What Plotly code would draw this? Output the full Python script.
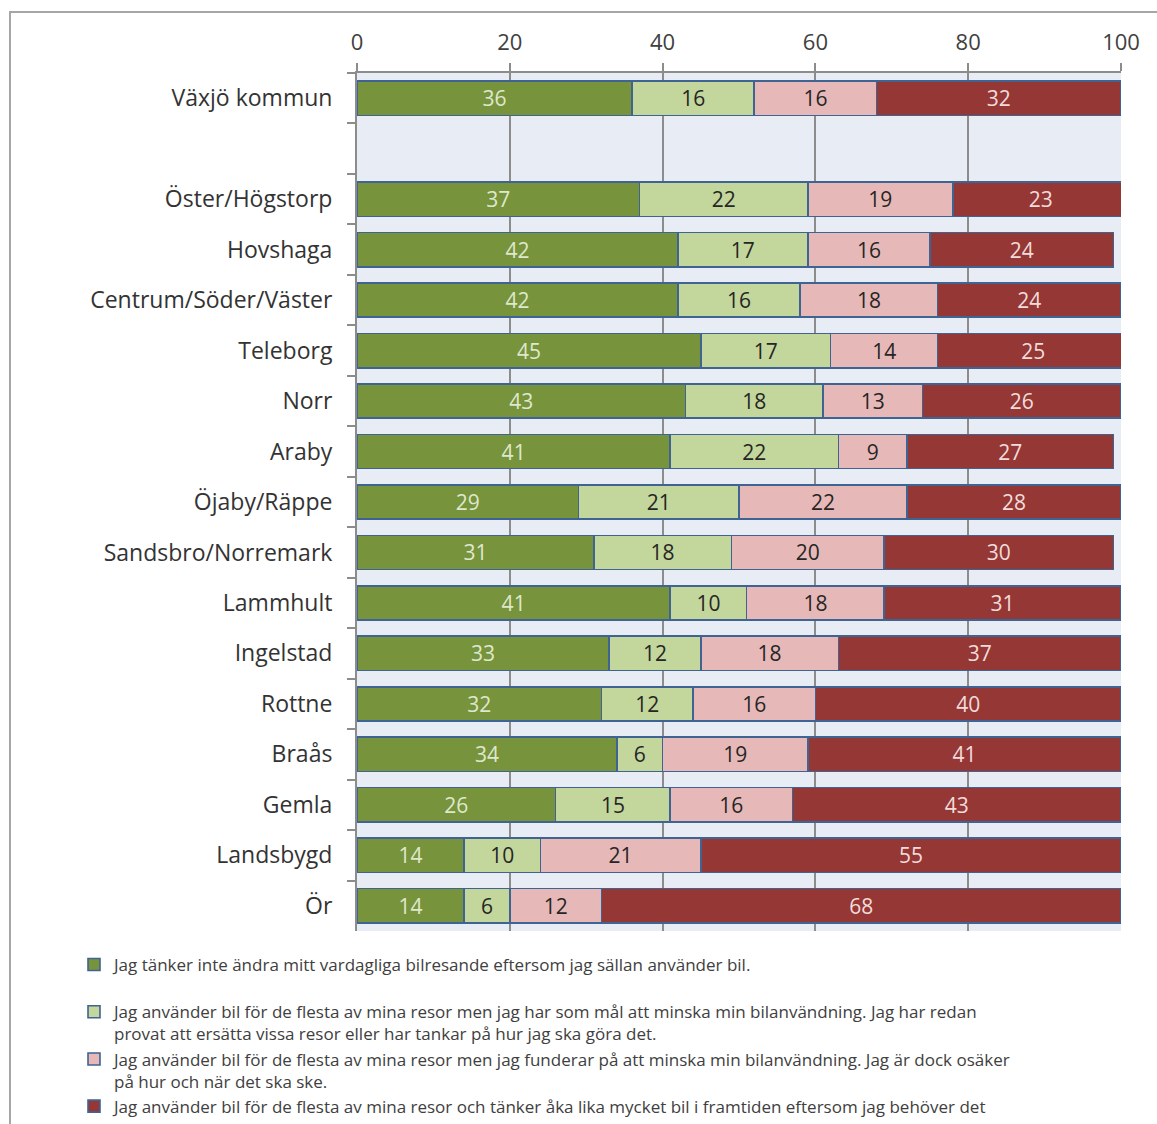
import plotly.graph_objects as go

categories = ["Växjö kommun", " ", "Öster/Högstorp", "Hovshaga", "Centrum/Söder/Väster", "Teleborg",
              "Norr", "Araby", "Öjaby/Räppe", "Sandsbro/Norremark", "Lammhult", "Ingelstad",
              "Rottne", "Braås", "Gemla", "Landsbygd", "Ör"]

s1 = [36, None, 37, 42, 42, 45, 43, 41, 29, 31, 41, 33, 32, 34, 26, 14, 14]
s2 = [16, None, 22, 17, 16, 17, 18, 22, 21, 18, 10, 12, 12, 6, 15, 10, 6]
s3 = [16, None, 19, 16, 18, 14, 13, 9, 22, 20, 18, 18, 16, 19, 16, 21, 12]
s4 = [32, None, 23, 24, 24, 25, 26, 27, 28, 30, 31, 37, 40, 41, 43, 55, 68]

names = [
    "Jag tänker inte ändra mitt vardagliga bilresande eftersom jag sällan använder bil.<br> ",
    "Jag använder bil för de flesta av mina resor men jag har som mål att minska min bilanvändning. Jag har redan<br>provat att ersätta vissa resor eller har tankar på hur jag ska göra det.",
    "Jag använder bil för de flesta av mina resor men jag funderar på att minska min bilanvändning. Jag är dock osäker<br>på hur och när det ska ske.",
    "Jag använder bil för de flesta av mina resor och tänker åka lika mycket bil i framtiden eftersom jag behöver det",
]

ticks = [0, 20, 40, 60, 80, 100]

colors = ["#77933c", "#c3d69b", "#e6b9b8", "#953735"]
text_colors = ["#dfe8cc", "#262626", "#262626", "#f2dcdb"]

fig = go.Figure()
for vals, name, col, tcol in zip([s1, s2, s3, s4], names, colors, text_colors):
    fig.add_trace(go.Bar(
        y=categories, x=vals, name=name, orientation="h",
        marker=dict(color=col, line=dict(color="#3f6393", width=1.6)),
        text=[("" if v is None else str(v)) for v in vals],
        textposition="inside", insidetextanchor="middle",
        textfont=dict(family="Open Sans", size=21, color=tcol),
        hoverinfo="x+y", width=0.68,
    ))

fig.update_layout(
    barmode="stack",
    width=1157, height=1124,
    margin=dict(l=357, r=36, t=73, b=193, autoexpand=False),
    paper_bgcolor="white",
    plot_bgcolor="#e8ecf4",
    font=dict(family="Open Sans", color="#404040"),
    xaxis=dict(
        side="top", range=[0, 100], tickvals=ticks, ticktext=[str(t) for t in ticks],
        showgrid=True, gridcolor="#8c8c8c", gridwidth=2,
        showline=True, linecolor="#8c8c8c", linewidth=2,
        ticks="outside", ticklen=8, tickcolor="#8c8c8c", tickwidth=2,
        tickfont=dict(size=22, color="#404040"), zeroline=False, automargin=False,
        ticklabelstandoff=4,
    ),
    yaxis=dict(
        categoryorder="array", categoryarray=categories,
        range=[len(categories) - 0.5, -0.5],
        showgrid=False, showline=True, linecolor="#8c8c8c", linewidth=2,
        ticks="outside", tickson="boundaries", ticklen=8, tickcolor="#8c8c8c", tickwidth=2,
        tickfont=dict(size=23, color="#333333"), ticklabelstandoff=18, automargin=False,
    ),
    legend=dict(
        orientation="v", xref="container", yref="container",
        x=74 / 1157, y=1 - 947 / 1124, xanchor="left", yanchor="top",
        font=dict(size=17, color="#404040", family="Open Sans"),
        traceorder="normal", tracegroupgap=0, valign="top",
        itemwidth=30, bgcolor="rgba(0,0,0,0)",
    ),
    shapes=[dict(type="rect", xref="paper", yref="paper",
                 x0=(10 - 357) / 764, x1=1.2, y0=-0.5, y1=(931 - 12) / 858,
                 line=dict(color="#a6a6a6", width=2), fillcolor="rgba(0,0,0,0)", layer="below")],
)

fig.write_html("out.html")
